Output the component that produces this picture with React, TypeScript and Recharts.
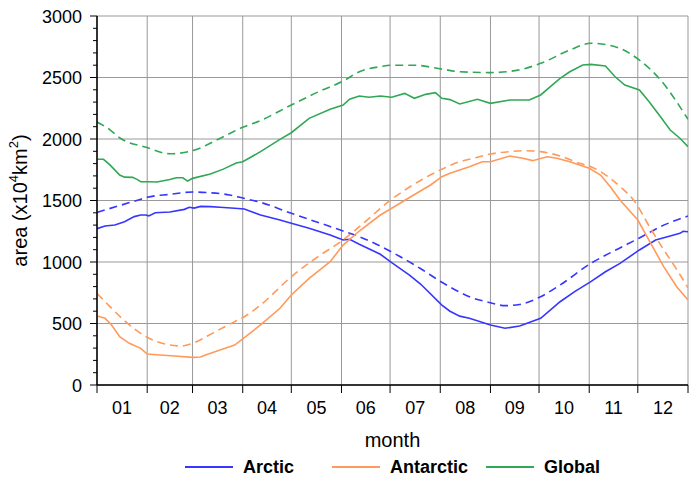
import React from 'react';
import { LineChart, Line, XAxis, YAxis, CartesianGrid, Legend } from 'recharts';

type Pt = [number, number];

// day of year -> area (x10^4 km^2)
const arcticClim: Pt[] = [
  [0, 1403], [14, 1459], [27, 1510], [31, 1526], [45, 1550], [59, 1569], [70, 1563], [82, 1545], [90, 1520],
  [101, 1485], [120, 1396], [138, 1315], [152, 1252], [162, 1206], [182, 1081], [200, 945], [213, 835],
  [224, 755], [230, 718], [243, 669], [252, 645], [261, 655], [274, 718], [286, 813], [305, 989], [320, 1095],
  [335, 1195], [348, 1287], [365, 1374],
];
const arcticObs: Pt[] = [
  [0, 1271], [5, 1293], [11, 1301], [17, 1328], [23, 1369], [27, 1382], [30, 1382], [32, 1375], [36, 1401],
  [45, 1407], [54, 1428], [57, 1445], [60, 1438], [64, 1452], [70, 1450], [76, 1445], [85, 1437], [91, 1431],
  [101, 1382], [113, 1341], [120, 1315], [131, 1274], [144, 1220], [150, 1190], [152, 1179], [156, 1185],
  [162, 1144], [175, 1063], [182, 995], [193, 894], [200, 819], [213, 650], [218, 600], [224, 560], [230, 542],
  [243, 488], [252, 461], [261, 480], [274, 542], [286, 677], [295, 759], [305, 840], [314, 921], [323, 989],
  [335, 1098], [345, 1179], [354, 1211], [360, 1233], [362, 1250], [365, 1246],
];
const antarcticClim: Pt[] = [
  [0, 745], [8, 637], [17, 523], [31, 388], [45, 325], [52, 317], [59, 339], [73, 433], [85, 515], [91, 555],
  [101, 650], [120, 880], [138, 1057], [152, 1179], [162, 1287], [182, 1510], [200, 1665], [213, 1754],
  [224, 1815], [230, 1835], [243, 1878], [255, 1897], [264, 1905], [274, 1897], [286, 1862], [298, 1802],
  [305, 1775], [317, 1680], [325, 1590], [331, 1510], [342, 1270], [350, 1100], [358, 940], [365, 790],
];
const antarcticObs: Pt[] = [
  [0, 561], [5, 542], [9, 488], [14, 393], [20, 339], [27, 298], [31, 252], [39, 244], [48, 236], [59, 225],
  [64, 228], [67, 244], [76, 285], [85, 325], [91, 385], [101, 488], [113, 624], [120, 732], [131, 867],
  [144, 1003], [152, 1138], [162, 1252], [175, 1382], [182, 1437], [193, 1524], [206, 1626], [213, 1694],
  [218, 1721], [230, 1775], [238, 1815], [243, 1815], [255, 1862], [263, 1843], [269, 1824], [278, 1856],
  [284, 1843], [292, 1815], [304, 1762], [311, 1707], [317, 1612], [323, 1504], [334, 1341], [342, 1152],
  [350, 962], [358, 799], [365, 691],
];
const globalClim: Pt[] = [
  [0, 2138], [8, 2075], [14, 2010], [31, 1930], [45, 1880], [59, 1905], [78, 2019], [90, 2095], [100, 2145],
  [120, 2276], [137, 2385], [152, 2471], [162, 2547], [175, 2588], [182, 2600], [196, 2600], [213, 2568],
  [224, 2547], [243, 2540], [260, 2560], [274, 2615], [292, 2723], [305, 2778], [320, 2750], [335, 2642],
  [348, 2480], [365, 2160],
];
const globalObs: Pt[] = [
  [0, 1835], [4, 1835], [8, 1790], [14, 1707], [17, 1690], [22, 1688], [25, 1670], [27, 1653], [31, 1653],
  [37, 1650], [45, 1670], [49, 1685], [53, 1685], [56, 1658], [59, 1680], [70, 1715], [78, 1755], [86, 1805],
  [90, 1815], [101, 1897], [113, 1997], [120, 2051], [131, 2168], [144, 2241], [152, 2276], [156, 2323],
  [162, 2350], [168, 2340], [175, 2350], [182, 2339], [190, 2371], [196, 2331], [203, 2363], [209, 2377],
  [213, 2331], [218, 2320], [224, 2285], [235, 2323], [243, 2290], [255, 2317], [267, 2317], [274, 2358],
  [280, 2425], [286, 2493], [292, 2547], [300, 2602], [305, 2607], [314, 2593], [320, 2506], [326, 2439],
  [335, 2398], [341, 2303], [348, 2181], [354, 2073], [360, 2006], [365, 1937],
];

const monthStarts = [0, 31, 59, 90, 120, 151, 181, 212, 243, 273, 304, 334, 365];
const monthLabels = ['01', '02', '03', '04', '05', '06', '07', '08', '09', '10', '11', '12'];
const monthMids = monthStarts.slice(0, 12).map((s, i) => (s + monthStarts[i + 1]) / 2);
const bottomTicks = [...monthStarts, ...monthMids].sort((a, b) => a - b);
const yMajor = [0, 500, 1000, 1500, 2000, 2500, 3000];
const yMinor = Array.from({ length: 31 }, (_, i) => i * 100);

const FONT = '"Liberation Sans", Arial, Helvetica, sans-serif';
const C_ARC = '#3636ff';
const C_ANT = '#ff9a5a';
const C_GLO = '#30a855';

const toRows = (pts: Pt[]) => pts.map(([day, area]) => ({ day, area }));

const LeftTick = (p: any) => {
  const { x, y, payload } = p;
  const v = payload.value;
  const major = v % 500 === 0;
  return (
    <g>
      <line x1={x - (major ? 7 : 4)} x2={x} y1={y} y2={y} stroke="#000" strokeWidth={1} />
      {major && (
        <text x={x - 15} y={y} dy={6.5} textAnchor="end" fontSize={18} fontFamily={FONT} fill="#000">
          {v}
        </text>
      )}
    </g>
  );
};
const RightTick = (p: any) => {
  const { x, y, payload } = p;
  const major = payload.value % 500 === 0;
  return <line x1={x} x2={x + (major ? 7 : 4)} y1={y} y2={y} stroke="#000" strokeWidth={1} />;
};
const TopTick = (p: any) => {
  const { x, y } = p;
  return <line x1={x} x2={x} y1={y - 7} y2={y} stroke="#000" strokeWidth={1} />;
};
const BottomTick = (p: any) => {
  const { x, y, payload } = p;
  const v = payload.value;
  const bi = monthStarts.indexOf(v);
  if (bi >= 0) return <line x1={x} x2={x} y1={y} y2={y + 8} stroke="#000" strokeWidth={1} />;
  const mi = monthMids.indexOf(v);
  return (
    <text x={x} y={y + 29} textAnchor="middle" fontSize={18} fontFamily={FONT} fill="#000">
      {monthLabels[mi]}
    </text>
  );
};

const legendItems = [
  { name: 'Arctic', color: C_ARC, w: 147 },
  { name: 'Antarctic', color: C_ANT, w: 154 },
  { name: 'Global', color: C_GLO, w: 130 },
];
const renderLegend = () => (
  <div style={{ display: 'flex', paddingLeft: 185, height: 24, alignItems: 'center', fontFamily: FONT }}>
    {legendItems.map((it) => (
      <div key={it.name} style={{ width: it.w, display: 'flex', alignItems: 'center' }}>
        <svg width={48} height={4} style={{ display: 'block' }}>
          <line x1={0} x2={48} y1={2} y2={2} stroke={it.color} strokeWidth={2} />
        </svg>
        <span style={{ marginLeft: 10, fontWeight: 'bold', fontSize: 18, color: '#000', lineHeight: '24px' }}>
          {it.name}
        </span>
      </div>
    ))}
  </div>
);

const YLabel = (p: any) => {
  const vb = p.viewBox || { x: 0, y: 16, width: 97, height: 369 };
  const cx = vb.x + 20;
  const cy = vb.y + vb.height / 2;
  return (
    <text
      x={cx}
      y={cy}
      transform={`rotate(-90 ${cx} ${cy})`}
      textAnchor="middle"
      dominantBaseline="central"
      fontSize={20}
      fontFamily={FONT}
      fill="#000"
    >
      area (x10
      <tspan fontSize={13} dy={-7}>4</tspan>
      <tspan dy={7}>km</tspan>
      <tspan fontSize={13} dy={-7}>2</tspan>
      <tspan dy={7}>)</tspan>
    </text>
  );
};
const XLabel = (p: any) => {
  const vb = p.viewBox || { x: 97, y: 385, width: 591, height: 97 };
  return (
    <text x={vb.x + vb.width / 2} y={vb.y + 62} textAnchor="middle" fontSize={20} fontFamily={FONT} fill="#000">
      month
    </text>
  );
};

const series = [
  { key: 'arcClim', data: arcticClim, color: C_ARC, dash: true },
  { key: 'arcObs', data: arcticObs, color: C_ARC, dash: false },
  { key: 'antClim', data: antarcticClim, color: C_ANT, dash: true },
  { key: 'antObs', data: antarcticObs, color: C_ANT, dash: false },
  { key: 'gloClim', data: globalClim, color: C_GLO, dash: true },
  { key: 'gloObs', data: globalObs, color: C_GLO, dash: false },
];

export default function App() {
  return (
    <div style={{ position: 'absolute', left: 0, top: 0, width: 696, height: 482, background: '#fff' }}>
      <LineChart width={696} height={482} margin={{ top: 16, right: 8, bottom: 0, left: 0 }}>
        <CartesianGrid
          stroke="#999999"
          strokeWidth={1}
          verticalValues={monthStarts}
          horizontalValues={yMajor}
        />
        <XAxis
          type="number"
          dataKey="day"
          domain={[0, 365]}
          ticks={bottomTicks}
          interval={0}
          allowDataOverflow
          height={97}
          tickSize={0}
          tickMargin={0}
          tickLine={false}
          tick={<BottomTick />}
          axisLine={{ stroke: '#000', strokeWidth: 1.5 }}
          label={<XLabel />}
        />
        <XAxis
          xAxisId="top"
          orientation="top"
          type="number"
          dataKey="day"
          domain={[0, 365]}
          ticks={monthStarts}
          interval={0}
          allowDataOverflow
          height={0}
          tickSize={0}
          tickMargin={0}
          tickLine={false}
          tick={<TopTick />}
          axisLine={{ stroke: '#000', strokeWidth: 1.5 }}
        />
        <YAxis
          type="number"
          domain={[0, 3000]}
          ticks={yMinor}
          interval={0}
          allowDataOverflow
          width={97}
          tickSize={0}
          tickMargin={0}
          tickLine={false}
          tick={<LeftTick />}
          axisLine={{ stroke: '#000', strokeWidth: 1.5 }}
          label={<YLabel />}
        />
        <YAxis
          yAxisId="right"
          orientation="right"
          type="number"
          domain={[0, 3000]}
          ticks={yMinor}
          interval={0}
          allowDataOverflow
          width={0}
          tickSize={0}
          tickMargin={0}
          tickLine={false}
          tick={<RightTick />}
          axisLine={{ stroke: '#000', strokeWidth: 1.5 }}
        />
        {/* invisible series tying the mirrored top/right frame axes to the same data */}
        <Line
          xAxisId="top"
          yAxisId="right"
          data={toRows(globalClim)}
          dataKey="area"
          stroke="none"
          strokeWidth={0}
          dot={false}
          activeDot={false}
          legendType="none"
          isAnimationActive={false}
        />
        {series.map((s) => (
          <Line
            key={s.key}
            data={toRows(s.data)}
            dataKey="area"
            type={s.dash ? 'monotone' : 'linear'}
            stroke={s.color}
            strokeWidth={1.6}
            strokeDasharray={s.dash ? '8 5' : undefined}
            dot={false}
            activeDot={false}
            isAnimationActive={false}
          />
        ))}
        <Legend
          verticalAlign="middle"
          align="center"
          content={renderLegend}
          wrapperStyle={{ position: 'absolute', left: 0, top: 455, width: 696 }}
        />
      </LineChart>
    </div>
  );
}
